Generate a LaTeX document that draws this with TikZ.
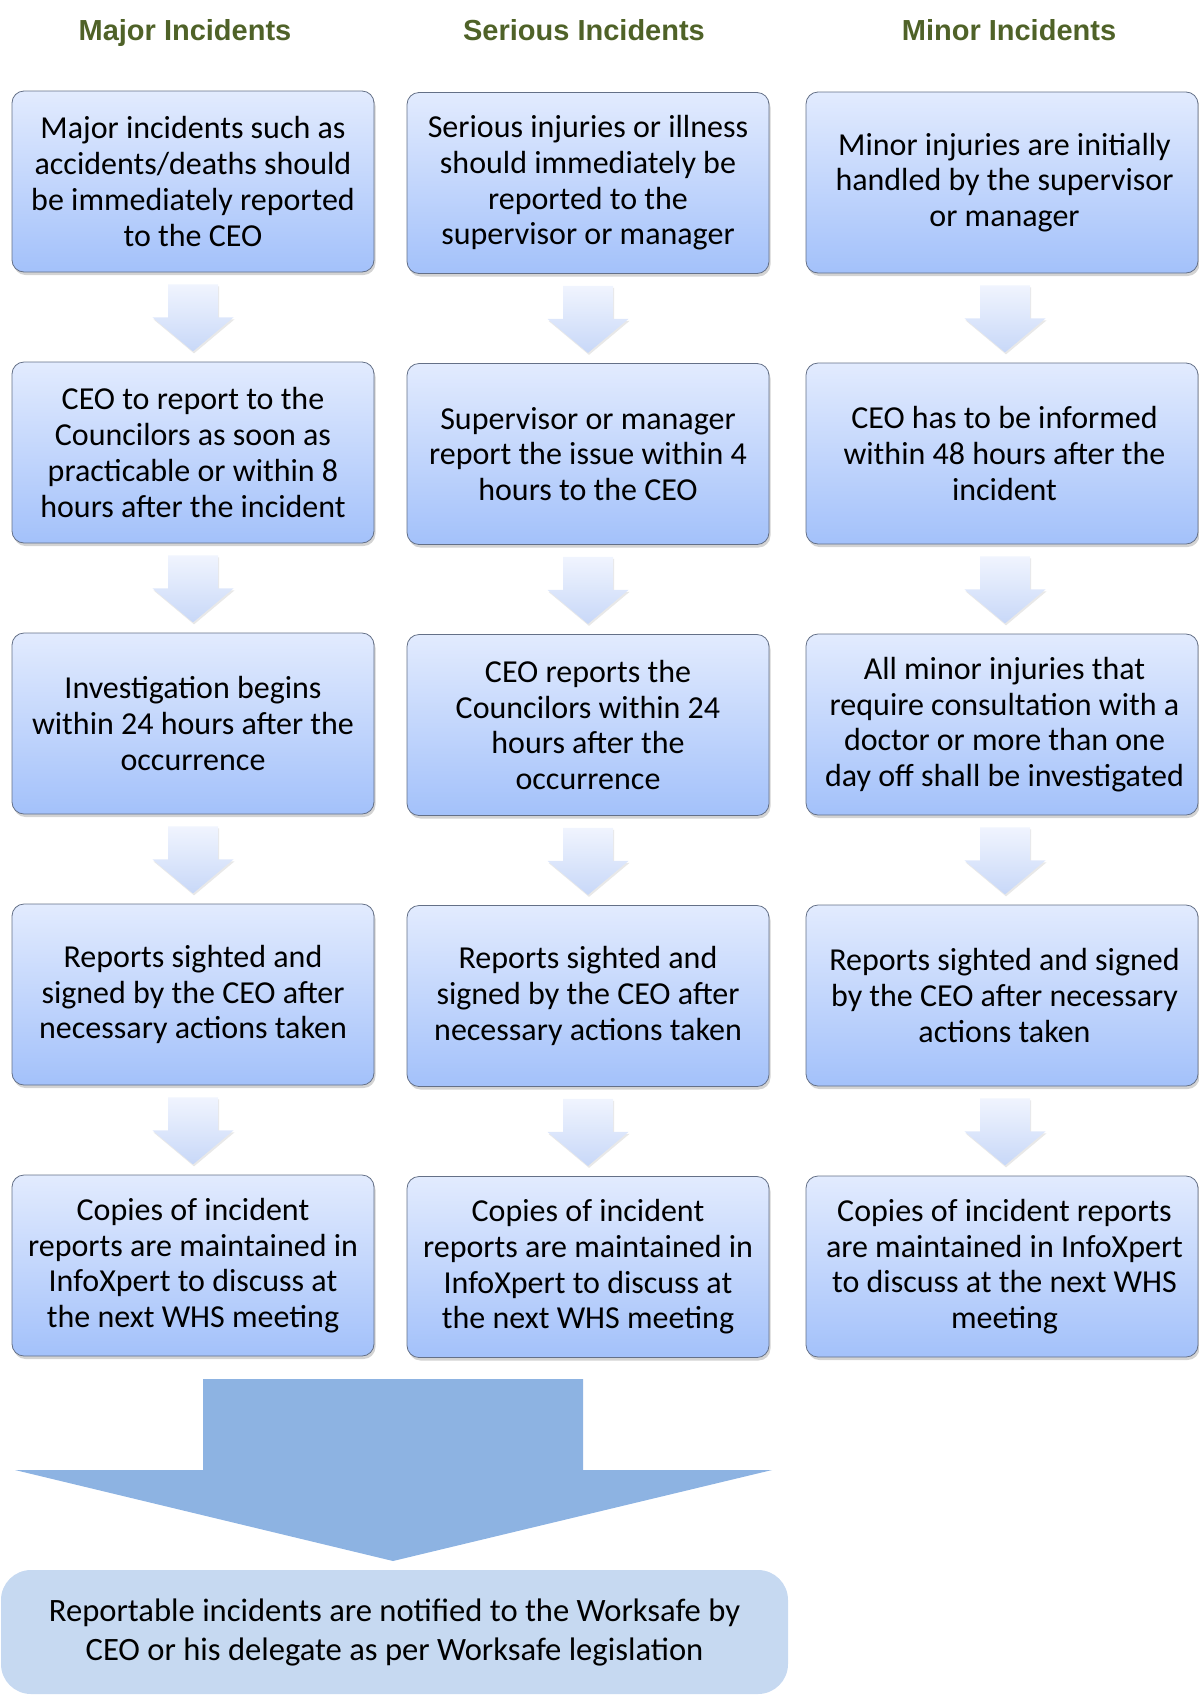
\documentclass[tikz,border=0pt]{standalone}
\usepackage{fontspec}
\setmainfont{Carlito}
\newfontfamily\headfont{Liberation Sans}
\usetikzlibrary{shadows,calc}
\definecolor{boxtop}{RGB}{226,235,254}
\definecolor{boxbot}{RGB}{163,193,250}
\definecolor{boxline}{RGB}{100,112,135}
\definecolor{arrtop}{RGB}{240,244,254}
\definecolor{arrbot}{RGB}{200,216,248}
\definecolor{bigarr}{RGB}{141,179,226}
\definecolor{botboxcol}{RGB}{198,217,241}
\definecolor{headgreen}{RGB}{79,98,40}
\newcommand\smallarr[2]{%
  \path[top color=arrtop, bottom color=arrbot,
        drop shadow={opacity=0.18, shadow xshift=1pt, shadow yshift=-2pt}]
    ($(#1.south)+(#2-25,12)$) -- ++(50,0) -- ++(0,33) -- ++(15.5,0)
    -- ($(#1.south)+(#2,79)$) -- ($(#1.south)+(#2-40.5,45)$) -- ++(15.5,0) -- cycle;}
\begin{document}
\begin{tikzpicture}[x=1pt,y=-1pt,
  stepbox/.style={rectangle, rounded corners=12pt, draw=boxline, line width=0.8pt,
    top color=boxtop, bottom color=boxbot, minimum height=181pt, align=center,
    inner sep=0pt, font=\fontsize{32}{35.7}\selectfont,
    drop shadow={opacity=0.35, shadow xshift=1.5pt, shadow yshift=-3pt}},
  narrowbox/.style={stepbox, minimum width=362pt},
  widebox/.style={stepbox, minimum width=392pt},
  head/.style={font=\headfont\bfseries\fontsize{29}{34}\selectfont, text=headgreen,
    inner sep=0pt, anchor=base},
  finalbox/.style={rectangle, rounded corners=30pt, fill=botboxcol, minimum width=787pt,
    minimum height=124pt, align=center, inner sep=0pt, font=\fontsize{32.6}{39}\selectfont}
  ]
\useasboundingbox (0,0) rectangle (1199,1695);

% headers
\node[head] (h1) at (185,40) {Major Incidents};
\node[head] (h2) at (584,40) {Serious Incidents};
\node[head] (h3) at (1009,40) {Minor Incidents};

% column 1
\node[narrowbox] (a1) at (193,181.5) {Major incidents such as\\accidents/deaths should\\be immediately reported\\to the CEO};
\node[narrowbox] (a2) at (193,452.5) {CEO to report to the\\Councilors as soon as\\practicable or within 8\\hours after the incident};
\node[narrowbox] (a3) at (193,723.5) {Investigation begins\\within 24 hours after the\\occurrence};
\node[narrowbox] (a4) at (193,994.5) {Reports sighted and\\signed by the CEO after\\necessary actions taken};
\node[narrowbox] (a5) at (193,1265.5) {Copies of incident\\reports are maintained in\\InfoXpert to discuss at\\the next WHS meeting};

% column 2
\node[narrowbox] (b1) at (588,183) {Serious injuries or illness\\should immediately be\\reported to the\\supervisor or manager};
\node[narrowbox] (b2) at (588,454) {Supervisor or manager\\report the issue within 4\\hours to the CEO};
\node[narrowbox] (b3) at (588,725) {CEO reports the\\Councilors within 24\\hours after the\\occurrence};
\node[narrowbox] (b4) at (588,996) {Reports sighted and\\signed by the CEO after\\necessary actions taken};
\node[narrowbox] (b5) at (588,1267) {Copies of incident\\reports are maintained in\\InfoXpert to discuss at\\the next WHS meeting};

% column 3
\node[widebox] (c1) at (1002,182.5) {\hspace*{5pt}Minor injuries are initially\\\hspace*{5pt}handled by the supervisor\\\hspace*{5pt}or manager};
\node[widebox] (c2) at (1002,453.5) {\hspace*{5pt}CEO has to be informed\\\hspace*{5pt}within 48 hours after the\\\hspace*{5pt}incident};
\node[widebox] (c3) at (1002,724.5) {\hspace*{5pt}All minor injuries that\\\hspace*{5pt}require consultation with a\\\hspace*{5pt}doctor or more than one\\\hspace*{5pt}day off shall be investigated};
\node[widebox] (c4) at (1002,995.5) {\hspace*{5pt}Reports sighted and signed\\\hspace*{5pt}by the CEO after necessary\\\hspace*{5pt}actions taken};
\node[widebox] (c5) at (1002,1266.5) {\hspace*{5pt}Copies of incident reports\\\hspace*{5pt}are maintained in InfoXpert\\\hspace*{5pt}to discuss at the next WHS\\\hspace*{5pt}meeting};

% small arrows
\smallarr{a1}{0}\smallarr{a2}{0}\smallarr{a3}{0}\smallarr{a4}{0}
\smallarr{b1}{0}\smallarr{b2}{0}\smallarr{b3}{0}\smallarr{b4}{0}
\smallarr{c1}{3}\smallarr{c2}{3}\smallarr{c3}{3}\smallarr{c4}{3}

% big arrow
\fill[bigarr] (203,1379) -- (583,1379) -- (583,1470) -- (772,1470) -- (393,1561)
  -- (15,1470) -- (203,1470) -- cycle;

% final box
\node[finalbox] (fin) at (394.5,1632) {Reportable incidents are notified to the Worksafe by\\CEO or his delegate as per Worksafe legislation};
\end{tikzpicture}
\end{document}
